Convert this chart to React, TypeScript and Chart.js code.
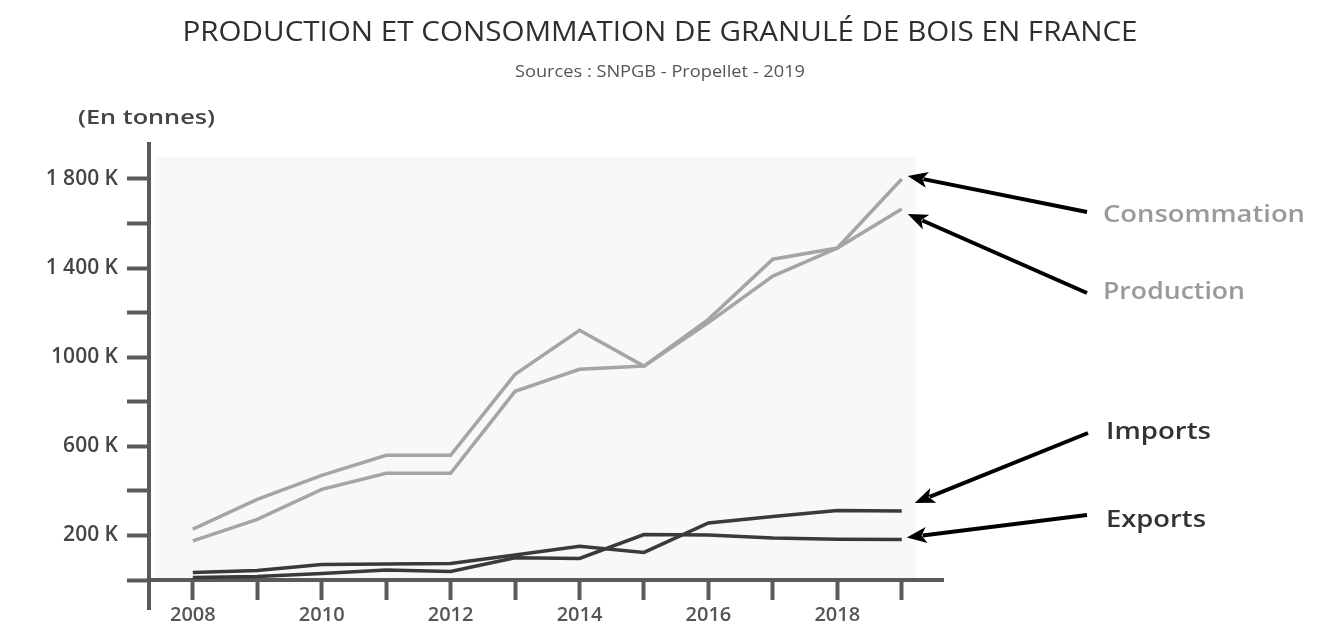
import React, { useEffect, useRef } from "react";
import { Chart, registerables } from "chart.js";

Chart.register(...registerables);

// ---------- data ----------
const years = [2008, 2009, 2010, 2011, 2012, 2013, 2014, 2015, 2016, 2017, 2018, 2019];
const consommation = [228, 362, 470, 560, 560, 923, 1121, 960, 1155, 1364, 1490, 1800];
const production = [176, 272, 407, 479, 479, 847, 946, 960, 1170, 1440, 1490, 1665];
const imports = [34, 43, 70, 72, 74, 112, 151, 124, 256, 285, 312, 310];
const exportsData = [11, 16, 29, 45, 38, 100, 97, 204, 202, 188, 183, 182];

const yTickValues = [0, 200, 400, 600, 800, 1000, 1200, 1400, 1600, 1800];
const yTickLabels = ["", "200 K", "", "600 K", "", "1000 K", "", "1 400 K", "", "1 800 K"];
const xLabelledYears = [2008, 2010, 2012, 2014, 2016, 2018];

const TITLE = "PRODUCTION ET CONSOMMATION DE GRANULÉ DE BOIS EN FRANCE";
const SUBTITLE = "Sources : SNPGB - Propellet - 2019";
const UNIT = "(En tonnes)";
const seriesNames = ["Consommation", "Production", "Imports", "Exports"];
const seriesValues = [consommation, production, imports, exportsData];
const seriesColors = ["#a5a5a5", "#a5a5a5", "#3a3a3a", "#3a3a3a"];
const labelColors = ["#9a9a9a", "#9a9a9a", "#333333", "#333333"];

const X_MIN = 2007.32;
const X_MAX = 2019.64;
const Y_MIN = 0;
const Y_MAX = 1957;

const AXIS_COLOR = "#5a5a5a";

function drawFit(
  ctx: CanvasRenderingContext2D,
  text: string,
  x: number,
  y: number,
  font: string,
  color: string,
  width: number,
  align: "left" | "center"
) {
  ctx.save();
  ctx.font = font;
  const w = ctx.measureText(text).width;
  const s = width / w;
  ctx.translate(x, y);
  ctx.scale(s, 1);
  ctx.fillStyle = color;
  ctx.textBaseline = "middle";
  ctx.textAlign = "left";
  ctx.fillText(text, align === "center" ? -w / 2 : 0, 0);
  ctx.restore();
}

function drawArrow(ctx: CanvasRenderingContext2D, x1: number, y1: number, x2: number, y2: number) {
  const ang = Math.atan2(y2 - y1, x2 - x1);
  const headLen = 20;
  const headHalf = 8;
  const bx = x2 - headLen * Math.cos(ang);
  const by = y2 - headLen * Math.sin(ang);
  ctx.save();
  ctx.strokeStyle = "#000";
  ctx.fillStyle = "#000";
  ctx.lineWidth = 4;
  ctx.beginPath();
  ctx.moveTo(x1, y1);
  ctx.lineTo(bx + 4 * Math.cos(ang), by + 4 * Math.sin(ang));
  ctx.stroke();
  ctx.beginPath();
  ctx.moveTo(x2, y2);
  ctx.lineTo(bx + headHalf * Math.sin(ang), by - headHalf * Math.cos(ang));
  ctx.lineTo(bx + 5 * Math.cos(ang), by + 5 * Math.sin(ang));
  ctx.lineTo(bx - headHalf * Math.sin(ang), by + headHalf * Math.cos(ang));
  ctx.closePath();
  ctx.fill();
  ctx.restore();
}

const backgroundPlugin = {
  id: "plotBackground",
  beforeDraw(chart: any) {
    const { ctx, chartArea, scales } = chart;
    const x0 = chartArea.left + 6;
    const x1 = scales.x.getPixelForValue(2019.23);
    const y0 = chartArea.top + 13;
    ctx.save();
    ctx.fillStyle = "#f8f8f8";
    ctx.fillRect(x0, y0, x1 - x0, chartArea.bottom - y0);
    ctx.restore();
  },
};

const labelTails = [
  { x: 1087, y: 212, lx: 1103, ly: 215, w: 202, dy: -3, dx: 6 },
  { x: 1087, y: 293, lx: 1103, ly: 292, w: 142, dy: 5, dx: 6 },
  { x: 1088, y: 433, lx: 1106, ly: 432, w: 105, dy: -8, dx: 13 },
  { x: 1087, y: 515, lx: 1106, ly: 520, w: 100, dy: -2, dx: 5 },
];

const textPlugin = {
  id: "texts",
  afterDraw(chart: any) {
    const { ctx, scales, chartArea } = chart;
    // small downward extension of the vertical axis
    ctx.save();
    ctx.strokeStyle = AXIS_COLOR;
    ctx.lineWidth = 4;
    ctx.beginPath();
    ctx.moveTo(chartArea.left, chartArea.bottom);
    ctx.lineTo(chartArea.left, chartArea.bottom + 30);
    ctx.stroke();
    ctx.restore();

    drawFit(ctx, TITLE, 660, 33, '27px "Open Sans"', "#2e2e2e", 955, "center");
    drawFit(ctx, SUBTITLE, 660, 72, '16px "Open Sans"', "#555", 290, "center");
    drawFit(ctx, UNIT, 78, 118, '600 20px "Open Sans"', "#444", 137, "left");

    const last = years.length - 1;
    const xe = scales.x.getPixelForValue(years[last]);
    seriesNames.forEach((name, i) => {
      const t = labelTails[i];
      const ye = scales.y.getPixelForValue(seriesValues[i][last]);
      drawArrow(ctx, t.x, t.y, xe + t.dx, ye + t.dy);
      drawFit(ctx, name, t.lx, t.ly, '600 24px "Open Sans"', labelColors[i], t.w, "left");
    });
  },
};

export default function App() {
  const canvasRef = useRef<HTMLCanvasElement | null>(null);

  useEffect(() => {
    const canvas = canvasRef.current;
    if (!canvas) return;
    const datasets = seriesNames.map((name, i) => ({
      label: name,
      data: years.map((yr, j) => ({ x: yr, y: seriesValues[i][j] })),
      borderColor: seriesColors[i],
      backgroundColor: seriesColors[i],
      borderWidth: 3.5,
      pointRadius: 0,
      tension: 0,
      fill: false,
    }));

    const chart = new Chart(canvas, {
      type: "line",
      data: { datasets },
      options: {
        responsive: false,
        animation: false,
        devicePixelRatio: 1,
        layout: { padding: { left: 0, top: 144, right: 381, bottom: 0 } },
        plugins: {
          legend: { display: false },
          tooltip: { enabled: false },
          title: { display: false },
        },
        scales: {
          x: {
            type: "linear",
            min: X_MIN,
            max: X_MAX,
            afterFit(scale: any) {
              scale.height = 51;
            },
            afterBuildTicks(scale: any) {
              scale.ticks = years.map((v) => ({ value: v }));
            },
            ticks: {
              autoSkip: false,
              maxRotation: 0,
              padding: 3,
              color: "#555",
              font: { family: "Open Sans", size: 20, weight: "600" },
              callback: (v: any) => (xLabelledYears.includes(Number(v)) ? String(v) : ""),
            },
            grid: {
              display: true,
              drawOnChartArea: false,
              drawTicks: true,
              tickLength: 20,
              tickWidth: 4,
              tickColor: AXIS_COLOR,
            },
            border: { display: true, width: 4, color: AXIS_COLOR },
          },
          y: {
            type: "linear",
            min: Y_MIN,
            max: Y_MAX,
            afterFit(scale: any) {
              scale.width = 149;
            },
            afterBuildTicks(scale: any) {
              scale.ticks = yTickValues.map((v) => ({ value: v }));
            },
            ticks: {
              padding: 9,
              color: "#444",
              font: { family: "Open Sans", size: 21, weight: "600" },
              callback: (v: any) => {
                const idx = yTickValues.indexOf(Number(v));
                return idx >= 0 ? yTickLabels[idx] : "";
              },
            },
            grid: {
              display: true,
              drawOnChartArea: false,
              drawTicks: true,
              tickLength: 22,
              tickWidth: 4,
              tickColor: AXIS_COLOR,
            },
            border: { display: true, width: 4, color: AXIS_COLOR },
          },
        },
      },
      plugins: [backgroundPlugin, textPlugin],
    } as any);

    return () => chart.destroy();
  }, []);

  return (
    <div style={{ position: "fixed", left: 0, top: 0, width: 1324, height: 631, background: "#fff" }}>
      <canvas ref={canvasRef} width={1324} height={631} style={{ display: "block" }} />
    </div>
  );
}
